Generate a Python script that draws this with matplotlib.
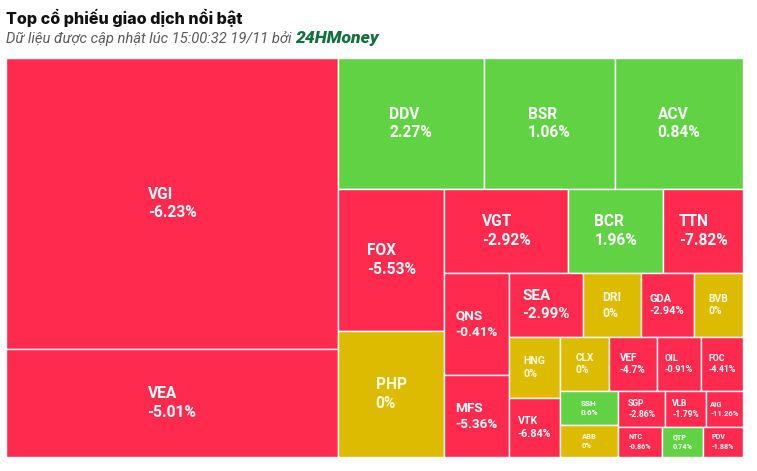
import matplotlib
matplotlib.use("Agg")
import matplotlib.pyplot as plt
from matplotlib.patches import Rectangle

# ma co phieu, % thay doi, gia tri giao dich (uoc luong tu dien tich o)
tickers = ['VGI', 'VEA', 'DDV', 'BSR', 'ACV', 'FOX', 'PHP', 'VGT', 'BCR', 'TTN',
           'QNS', 'MFS', 'SEA', 'DRI', 'GDA', 'BVB', 'HNG', 'VTK', 'CLX', 'VEF',
           'OIL', 'FOC', 'SSH', 'ABB', 'SGP', 'VLB', 'AIG', 'NTC', 'QTP', 'PDV']
changes = [-6.23, -5.01, 2.27, 1.06, 0.84, -5.53, 0, -2.92, 1.96, -7.82,
           -0.41, -5.36, -2.99, 0, -2.94, 0, 0, -6.84, 0, -4.7,
           -0.91, -4.41, 0.6, 0, -2.86, -1.79, -11.26, -0.86, 0.74, -1.88]
values = [966, 359, 191, 172, 168, 151, 134, 104, 80, 67,
          66, 53, 47, 37, 34, 31.4, 31.1, 30.1, 26.2, 26.1,
          23.8, 22.7, 19.7, 18.6, 16.9, 14.8, 13.3, 13.2, 12.3, 12.0]

RED = '#FF2A4E'
GREEN = '#62D245'
YELLOW = '#DDBB00'

W, H = 737, 399


def ratio(a, b):
    return max(a / b, b / a)


def place(row, rect, d, out):
    x, y, w, h = rect
    s = sum(row)
    if d == 0:
        cw = s / h
        yy = y
        for a in row:
            out.append((x, yy, cw, a / cw))
            yy += a / cw
        return (x + cw, y, w - cw, h)
    rh = s / w
    xx = x
    for a in row:
        out.append((xx, y, a / rh, rh))
        xx += a / rh
    return (x, y + rh, w, h - rh)


def squarified(vals, w, h):
    # chia o kieu squarified, doi huong sau moi hang
    tot = sum(vals)
    areas = [v / tot * w * h for v in vals]
    out = []
    rect = (0, 0, w, h)
    d = 0
    row = []
    for a in areas:
        if row:
            side = rect[3] if d == 0 else rect[2]
            s_old = sum(row) / side
            s_new = (sum(row) + a) / side
            r_old = ratio(s_old, row[-1] / s_old)
            r_new = ratio(s_new, row[-1] / s_new)
            if r_new > r_old:
                rect = place(row, rect, d, out)
                d = 1 - d
                row = []
        row.append(a)
    place(row, rect, d, out)
    return out


fig = plt.figure(figsize=(7.57, 4.71), dpi=100)
ax = fig.add_axes([6 / 757, 14 / 471, W / 757, H / 471])
ax.set_xlim(0, W)
ax.set_ylim(H, 0)
ax.axis('off')

cells = squarified(values, W, H)
for (x, y, w, h), t, c in zip(cells, tickers, changes):
    if c > 0:
        col = GREEN
    elif c < 0:
        col = RED
    else:
        col = YELLOW
    ax.add_patch(Rectangle((x, y), w, h, facecolor=col, edgecolor='white', lw=1))
    pct = f"{c:.2f}".rstrip('0').rstrip('.') + '%'
    fs = min(15.5, w / 4.8, h / 4.2) * 0.72
    tc = '#FFF9E0' if c == 0 else 'white'
    ax.text(x + w / 2, y + h / 2, f"{t}\n{pct}", ha='center', va='center',
            multialignment='left', color=tc, fontsize=fs, fontweight='bold',
            family='Roboto', linespacing=1.3)

fig.text(6 / 757, 1 - 18 / 471, 'Top cổ phiếu giao dịch nổi bật', fontsize=11.6,
         fontweight='heavy', family='Inter', va='center', color='#111111')
sub = fig.text(6 / 757, 1 - 39 / 471, 'Dữ liệu được cập nhật lúc 15:00:32 19/11 bởi ',
               fontsize=10.6, style='italic', family='Roboto', va='center', color='#5a5a5a')
ax.annotate('24HMoney', xy=(1, 0), xycoords=sub, va='bottom', ha='left',
            fontsize=12.6, style='italic', fontweight='heavy', family='Roboto',
            color='#14703F', annotation_clip=False)

fig.savefig('out.png', dpi=100)
